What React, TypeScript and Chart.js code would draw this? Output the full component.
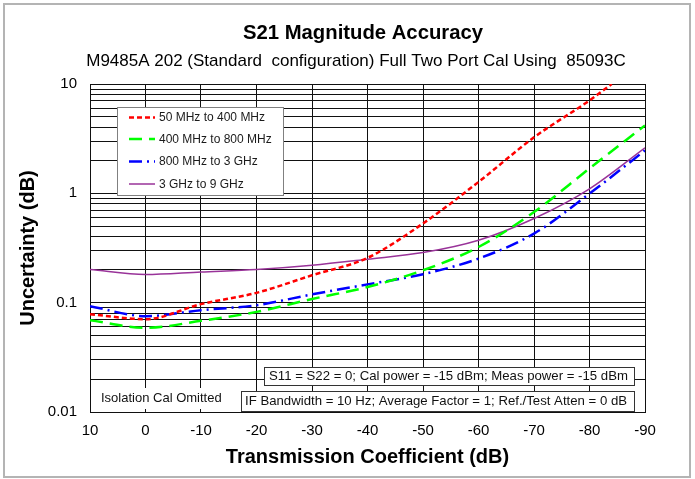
import React, { useEffect, useRef } from "react";
import { Chart, registerables } from "chart.js";

Chart.register(...registerables);

// ---- data ----
const X_DB = [10, 0, -10, -20, -30, -40, -50, -60, -70, -80, -90];
const RED_X = [10, 0, -10, -20, -30, -40, -50, -60, -70, -80, -84];
const RED_Y = [0.0785, 0.0706, 0.097, 0.123, 0.178, 0.257, 0.53, 1.27, 3.25, 7.07, 10];
const GREEN_Y = [0.0692, 0.0589, 0.0682, 0.0824, 0.108, 0.139, 0.198, 0.323, 0.675, 1.69, 4.18];
const BLUE_Y = [0.093, 0.0753, 0.0854, 0.0948, 0.119, 0.147, 0.182, 0.253, 0.428, 0.993, 2.47];
const PURPLE_Y = [0.201, 0.181, 0.191, 0.201, 0.22, 0.25, 0.287, 0.372, 0.588, 1.1, 2.61];

const SERIES_NAMES = ["50 MHz to 400 MHz", "400 MHz to 800 MHz", "800 MHz to 3 GHz", "3 GHz to 9 GHz"];

const Y_GRID = [
  0.01, 0.02, 0.03, 0.04, 0.05, 0.06, 0.07, 0.08, 0.09,
  0.1, 0.2, 0.3, 0.4, 0.5, 0.6, 0.7, 0.8, 0.9,
  1, 2, 3, 4, 5, 6, 7, 8, 9, 10,
];
const Y_TICK_LABELS = ["0.01", "0.1", "1", "10"];

const TITLE = "S21 Magnitude Accuracy";
const SUBTITLE = "M9485A 202 (Standard  configuration) Full Two Port Cal Using  85093C";
const X_TITLE = "Transmission Coefficient (dB)";
const Y_TITLE = "Uncertainty (dB)";
const NOTE_1 = "S11 = S22 = 0; Cal power = -15 dBm; Meas power = -15 dBm";
const NOTE_2 = "IF Bandwidth = 10 Hz; Average Factor = 1; Ref./Test Atten = 0 dB";
const NOTE_ISO = "Isolation Cal Omitted";

const FONT = "'Liberation Sans', Arial, sans-serif";

const pts = (xs: number[], ys: number[]) => xs.map((x, i) => ({ x, y: ys[i] }));

const decor = {
  id: "decor",
  beforeDraw(chart: any) {
    const ctx = chart.ctx;
    ctx.save();
    ctx.fillStyle = "#fff";
    ctx.fillRect(0, 0, chart.width, chart.height);
    ctx.restore();
  },
  afterDraw(chart: any) {
    const ctx = chart.ctx;
    ctx.save();
    // outer frame
    ctx.strokeStyle = "#b4b4b4";
    ctx.lineWidth = 2;
    ctx.strokeRect(4, 4, 686, 473);

    // titles
    ctx.fillStyle = "#000";
    ctx.textAlign = "center";
    ctx.textBaseline = "middle";
    ctx.font = `bold 20.3px ${FONT}`;
    ctx.fillText(TITLE, 363, 33);
    ctx.font = `17px ${FONT}`;
    ctx.fillText(SUBTITLE, 356, 61);

    // legend
    ctx.fillStyle = "#fff";
    ctx.fillRect(117, 107, 167, 89);
    ctx.strokeStyle = "#808080";
    ctx.lineWidth = 1;
    ctx.strokeRect(117.5, 107.5, 166, 88);
    const rows = [117.5, 139, 161.5, 184];
    chart.data.datasets.forEach((ds: any, i: number) => {
      const y = rows[i];
      ctx.save();
      ctx.strokeStyle = ds.borderColor;
      ctx.lineWidth = ds.borderWidth;
      ctx.setLineDash(ds.borderDash || []);
      ctx.beginPath();
      ctx.moveTo(129, y);
      ctx.lineTo(155, y);
      ctx.stroke();
      ctx.restore();
      ctx.fillStyle = "#1a1a1a";
      ctx.font = `12px ${FONT}`;
      ctx.textAlign = "left";
      ctx.textBaseline = "middle";
      ctx.fillText(ds.label, 159, y + 0.5);
    });

    // notes
    ctx.font = `13.2px ${FONT}`;
    ctx.textAlign = "left";
    ctx.textBaseline = "middle";
    const box = (x: number, y: number, w: number, h: number, text: string, tx: number) => {
      ctx.fillStyle = "#fff";
      ctx.fillRect(x, y, w, h);
      ctx.strokeStyle = "#333";
      ctx.lineWidth = 1;
      ctx.strokeRect(x + 0.5, y + 0.5, w, h);
      ctx.fillStyle = "#111";
      ctx.fillText(text, tx, y + h / 2 + 0.5);
    };
    box(264, 367, 370, 18, NOTE_1, 269);
    box(241, 391, 393, 20, NOTE_2, 245);
    ctx.fillStyle = "#fff";
    ctx.fillRect(98, 388, 126, 21);
    ctx.fillStyle = "#111";
    ctx.font = `13px ${FONT}`;
    ctx.fillText(NOTE_ISO, 101, 398);
    ctx.restore();
  },
};

export default function App() {
  const ref = useRef<HTMLCanvasElement | null>(null);

  useEffect(() => {
    document.body.style.margin = "0";
    const canvas = ref.current;
    if (!canvas) return;
    const chart = new Chart(canvas, {
      type: "line",
      data: {
        datasets: [
          {
            label: SERIES_NAMES[0],
            data: pts(RED_X, RED_Y),
            borderColor: "#ff0000",
            borderWidth: 2.5,
            borderDash: [5, 3],
          },
          {
            label: SERIES_NAMES[1],
            data: pts(X_DB, GREEN_Y),
            borderColor: "#00ff00",
            borderWidth: 2.5,
            borderDash: [13, 7],
          },
          {
            label: SERIES_NAMES[2],
            data: pts(X_DB, BLUE_Y),
            borderColor: "#0000ff",
            borderWidth: 2.5,
            borderDash: [13, 5, 2, 5],
          },
          {
            label: SERIES_NAMES[3],
            data: pts(X_DB, PURPLE_Y),
            borderColor: "#993399",
            borderWidth: 1.5,
            borderDash: [],
          },
        ] as any,
      },
      options: {
        animation: false,
        responsive: false,
        maintainAspectRatio: false,
        layout: { padding: { top: 84, right: 50, left: 0, bottom: 0 } },
        elements: {
          point: { radius: 0, hoverRadius: 0 },
          line: { cubicInterpolationMode: "monotone", fill: false },
        },
        plugins: {
          legend: { display: false },
          title: { display: false },
          tooltip: { enabled: false },
        },
        scales: {
          x: {
            type: "linear",
            reverse: true,
            min: -90,
            max: 10,
            afterFit: (s: any) => {
              s.height = 67;
            },
            ticks: {
              stepSize: 10,
              padding: 10,
              color: "#000",
              font: { family: FONT, size: 15 },
              callback: (v: any) => String(v),
            },
            grid: { color: "#111", lineWidth: 1, drawTicks: false },
            border: { display: true, color: "#111", width: 1 },
            title: {
              display: true,
              text: X_TITLE,
              color: "#000",
              font: { family: FONT, size: 20, weight: "bold" },
              padding: { top: 0, bottom: 10 },
            },
          },
          y: {
            type: "logarithmic",
            min: 0.01,
            max: 10,
            afterFit: (s: any) => {
              s.width = 90;
            },
            afterBuildTicks: (s: any) => {
              s.ticks = Y_GRID.map((v) => ({ value: v }));
            },
            ticks: {
              autoSkip: false,
              padding: 13,
              color: "#000",
              font: { family: FONT, size: 15 },
              callback: (v: any) => {
                const idx = [0.01, 0.1, 1, 10].findIndex((m) => Math.abs(m - Number(v)) < 1e-9);
                return idx >= 0 ? Y_TICK_LABELS[idx] : "";
              },
            },
            grid: { color: "#111", lineWidth: 1, drawTicks: false },
            border: { display: true, color: "#111", width: 1 },
            title: {
              display: true,
              text: Y_TITLE,
              color: "#000",
              font: { family: FONT, size: 20, weight: "bold" },
              padding: { top: 16, bottom: 0 },
            },
          },
        },
      } as any,
      plugins: [decor],
    });
    return () => chart.destroy();
  }, []);

  return (
    <div style={{ position: "absolute", left: 0, top: 0, width: 695, height: 479, background: "#fff" }}>
      <canvas ref={ref} width={695} height={479} style={{ display: "block" }} />
    </div>
  );
}
